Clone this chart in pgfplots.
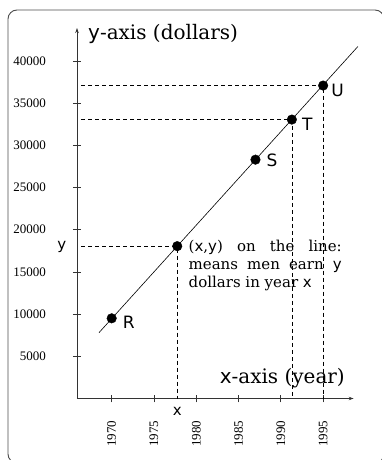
\documentclass[border=0pt]{standalone}
\usepackage{fontspec}
\setmainfont{DejaVu Serif}
\newfontfamily\tickfont{Liberation Serif}
\newfontfamily\eul{DejaVu Sans}
\usepackage{pgfplots}
\pgfplotsset{compat=1.18}
\usetikzlibrary{arrows.meta}
\newcommand{\vx}{{\eul x}}
\newcommand{\vy}{{\eul y}}
\begin{document}
\begin{tikzpicture}[x=1pt,y=1pt]
\useasboundingbox (0,0) rectangle (381,460);
\draw[line width=0.9pt, black!70, rounded corners=9pt] (8,-3) rectangle (384,450);
\begin{axis}[
  at={(77pt,61.5pt)}, anchor=south west,
  scale only axis, width=276.6pt, height=370.5pt,
  xmin=1965.9, xmax=1998.6, ymin=0, ymax=43900,
  axis lines=left,
  axis line style={-{Stealth[length=5pt,width=3.5pt]}, line width=0.8pt, black!80},
  tick align=center, major tick length=8pt,
  tick style={line width=0.8pt, black!80},
  xtick={1970,1975,1980,1985,1990,1995},
  ytick={5000,10000,15000,20000,25000,30000,35000,40000},
  scaled ticks=false,
  /pgf/number format/1000 sep={},
  /pgf/number format/assume math mode=true,
  tick label style={font=\tickfont\fontsize{13}{15}\selectfont},
  yticklabel style={anchor=east, inner sep=0pt, xshift=-27pt},
  xticklabel style={rotate=90, anchor=east, inner sep=0pt, xshift=-18pt},
  clip=false,
]
\addplot[black, line width=0.6pt] coordinates {(1968.5,7800) (1999.1,41700)};
\addplot[black, line width=0.6pt, dash pattern=on 4pt off 3pt] coordinates {(1966.4,37080) (1995,37080) (1995,0)};
\addplot[black, line width=0.6pt, dash pattern=on 4pt off 3pt] coordinates {(1966.4,33050) (1991.3,33050) (1991.3,0)};
\addplot[black, line width=0.6pt, dash pattern=on 4pt off 3pt] coordinates {(1966.4,18000) (1977.75,18000) (1977.75,0)};
\addplot[only marks, mark=*, mark size=4.8pt, black] coordinates {(1970,9500) (1977.75,18050) (1987,28300) (1991.3,33050) (1995,37080)};
\node[anchor=west, inner sep=0pt, font=\eul\fontsize{17}{20}\selectfont, xshift=11pt, yshift=-4pt] at (axis cs:1970,9500) {R};
\node[anchor=west, inner sep=0pt, font=\eul\fontsize{17}{20}\selectfont, xshift=11pt, yshift=-1pt] at (axis cs:1987,28300) {S};
\node[anchor=west, inner sep=0pt, font=\eul\fontsize{17}{20}\selectfont, xshift=10pt, yshift=-5pt] at (axis cs:1991.3,33050) {T};
\node[anchor=west, inner sep=0pt, font=\eul\fontsize{17}{20}\selectfont, xshift=8pt, yshift=-5pt] at (axis cs:1995,37080) {U};
\node[font=\eul\fontsize{15}{17}\selectfont] at (axis cs:1964.1,17900) {y};
\node[font=\eul\fontsize{15}{17}\selectfont] at (axis cs:1977.75,-1480) {x};
\end{axis}
\node[anchor=base west, inner sep=0pt, font=\fontsize{20}{24}\selectfont] at (88,420) {\vy-axis (dollars)};
\node[anchor=base east, inner sep=0pt, font=\fontsize{20}{24}\selectfont] at (345,76.7) {\vx-axis (year)};
\node[anchor=base west, inner sep=0pt, font=\fontsize{15}{18}\selectfont] at (188.5,208.3) {\makebox[153pt][s]{(\vx,\vy) on the line:}};
\node[anchor=base west, inner sep=0pt, font=\fontsize{15}{18}\selectfont] at (188.5,190.7) {\makebox[153pt][s]{means men earn \vy}};
\node[anchor=base west, inner sep=0pt, font=\fontsize{15}{18}\selectfont] at (188.5,172.7) {dollars in year \vx};
\end{tikzpicture}
\end{document}
